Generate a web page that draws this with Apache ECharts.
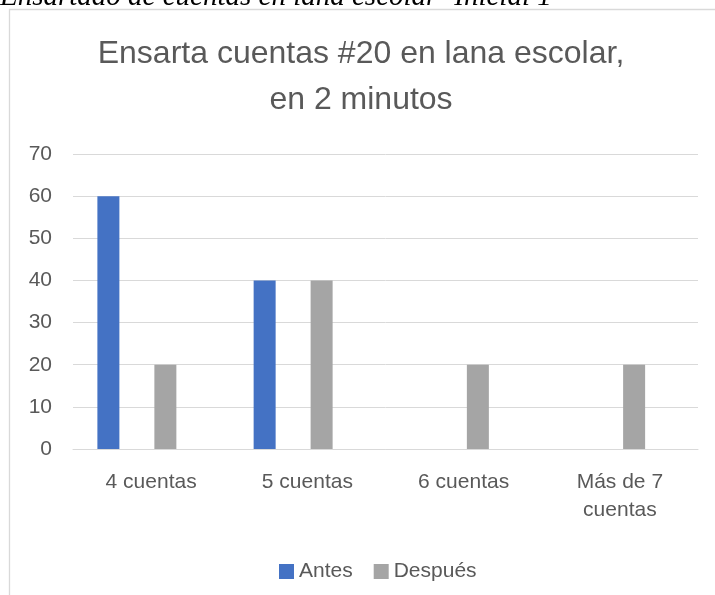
<!DOCTYPE html>
<html>
<head>
<meta charset="utf-8">
<script src="https://cdn.jsdelivr.net/npm/echarts@6/dist/echarts.min.js"></script>
<style>
  html, body { margin: 0; padding: 0; background: #fff; }
  #chart { width: 715px; height: 595px; }
</style>
</head>
<body>
<div id="chart"></div>
<script>
// datos
const categories = ['4 cuentas', '5 cuentas', '6 cuentas', 'Más de 7\ncuentas'];
const antes = [60, 40, 0, 0];
const despues = [20, 40, 20, 20];
const yTicks = { min: 0, max: 70, interval: 10 };

const textColor = '#595959';
const gridColor = '#D9D9D9';
const font = 'Liberation Sans';

const chart = echarts.init(document.getElementById('chart'));
chart.setOption({
  animation: false,
  graphic: [
    {
      // pie de figura del documento, cortado arriba
      type: 'text', silent: true,
      x: 0, y: 12,
      style: {
        text: 'Ensartado de cuentas en lana escolar -Inicial 1',
        fill: '#000', font: 'italic 29px "Liberation Serif"',
        verticalAlign: 'bottom'
      }
    },
    {
      type: 'rect', silent: true,
      shape: { x: 9.5, y: 9.5, width: 800, height: 700 },
      style: { fill: 'none', stroke: gridColor, lineWidth: 1.3 }
    }
  ],
  title: {
    text: 'Ensarta cuentas #20 en lana escolar,\nen 2 minutos',
    left: 361, top: 31, textAlign: 'center', padding: 0,
    textStyle: { color: textColor, fontFamily: font, fontSize: 32, fontWeight: 'normal', lineHeight: 46 }
  },
  legend: {
    data: ['Antes', 'Después'],
    left: 274, top: 556,
    itemWidth: 15, itemHeight: 15, itemGap: 21, icon: 'rect',
    textStyle: { color: textColor, fontFamily: font, fontSize: 21 }
  },
  grid: { left: 73, right: 17, top: 154, bottom: 146 },
  xAxis: {
    type: 'category', data: categories,
    axisLine: { lineStyle: { color: gridColor, width: 1 } },
    axisTick: { show: false },
    axisLabel: { color: textColor, fontFamily: font, fontSize: 21, lineHeight: 28, margin: 19, interval: 0 }
  },
  yAxis: {
    type: 'value', min: yTicks.min, max: yTicks.max, interval: yTicks.interval,
    axisLine: { show: false }, axisTick: { show: false },
    splitLine: { lineStyle: { color: gridColor, width: 1 } },
    axisLabel: { color: textColor, fontFamily: font, fontSize: 21, margin: 21 }
  },
  series: [
    { name: 'Antes', type: 'bar', data: antes, barWidth: 22, barGap: '29.5%', itemStyle: { color: '#4472C4' } },
    { name: 'h1', type: 'bar', data: [], barWidth: 22, silent: true },
    { name: 'Después', type: 'bar', data: despues, barWidth: 22, barGap: '29.5%', itemStyle: { color: '#A5A5A5' } },
    { name: 'h2', type: 'bar', data: [], barWidth: 22, barGap: '29.5%', silent: true }
  ]
});
</script>
</body>
</html>
